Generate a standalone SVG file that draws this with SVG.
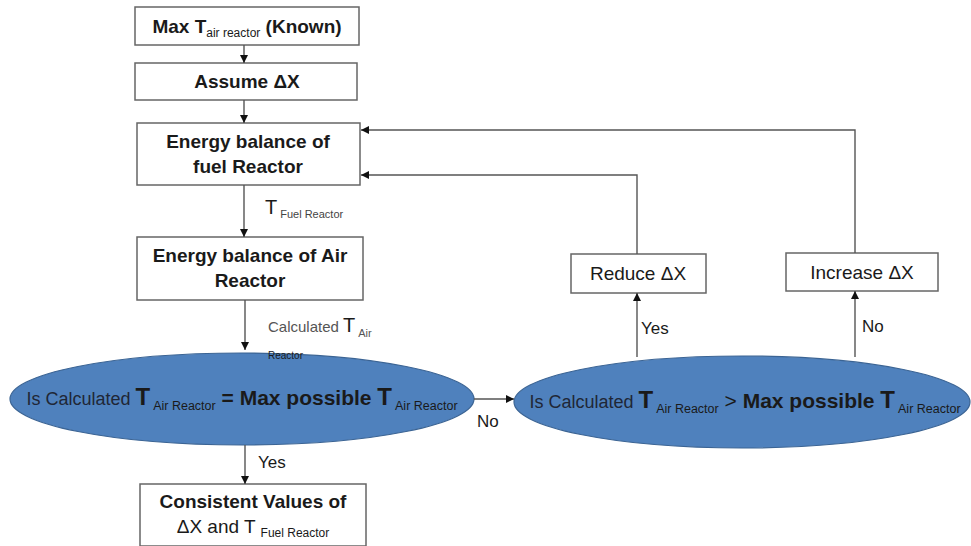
<svg xmlns="http://www.w3.org/2000/svg" width="971" height="546" viewBox="0 0 971 546">
<defs>
<marker id="ah" viewBox="0 0 10 10" refX="10" refY="5" markerWidth="8" markerHeight="8" markerUnits="userSpaceOnUse" orient="auto">
<path d="M0,0 L10,5 L0,10 z" fill="#111"/>
</marker>
<style>
.box{fill:#fff;stroke:#666;stroke-width:1.5}
.ell{fill:#4F81BD;stroke:#3b6494;stroke-width:1.2}
.t{font-family:"Liberation Sans",Arial,sans-serif;fill:#1a1a1a}
.b{font-weight:bold}
.c{stroke:#555;stroke-width:1.4;fill:none}
.ca{stroke:#555;stroke-width:1.4;fill:none;marker-end:url(#ah)}
</style>
</defs>
<rect width="971" height="546" fill="#fff"/>

<g id="n1">
<rect class="box" x="135" y="7" width="224" height="38"/>
<text class="t b" x="247" y="33" font-size="19" text-anchor="middle">Max T<tspan font-size="12" font-weight="normal" dy="4">air reactor</tspan><tspan dy="-4"> (Known)</tspan></text>
</g>
<g id="n2">
<rect class="box" x="135" y="63" width="222" height="37"/>
<text class="t b" x="247" y="88" font-size="19" text-anchor="middle">Assume ΔX</text>
</g>
<g id="n3">
<rect class="box" x="137" y="123" width="223" height="62"/>
<text class="t b" x="248" y="148" font-size="19" text-anchor="middle">Energy balance of</text>
<text class="t b" x="248" y="173" font-size="19" text-anchor="middle">fuel Reactor</text>
</g>
<g id="n4">
<rect class="box" x="137" y="237" width="226" height="63"/>
<text class="t b" x="250" y="262" font-size="19" text-anchor="middle">Energy balance of Air</text>
<text class="t b" x="250" y="287" font-size="19" text-anchor="middle">Reactor</text>
</g>
<g id="n5">
<ellipse class="ell" cx="242" cy="399" rx="232" ry="46"/>
<text class="t" x="242" y="405" text-anchor="middle"><tspan font-size="18" fill="#1f2736">Is Calculated </tspan><tspan font-size="24" font-weight="bold">T</tspan><tspan font-size="12.5" dy="5" dx="3">Air Reactor</tspan><tspan font-size="21" font-weight="bold" dy="-5"> = Max possible </tspan><tspan font-size="24" font-weight="bold">T</tspan><tspan font-size="12.5" dy="5" dx="3">Air Reactor</tspan></text>
</g>
<g id="n6">
<ellipse class="ell" cx="742" cy="402" rx="228" ry="46"/>
<text class="t" x="745" y="408" text-anchor="middle"><tspan font-size="18" fill="#1f2736">Is Calculated </tspan><tspan font-size="24" font-weight="bold">T</tspan><tspan font-size="12.5" dy="5" dx="3">Air Reactor</tspan><tspan font-size="21" dy="-5"> &gt; </tspan><tspan font-size="21" font-weight="bold">Max possible </tspan><tspan font-size="24" font-weight="bold">T</tspan><tspan font-size="12.5" dy="5" dx="3">Air Reactor</tspan></text>
</g>
<g id="n7">
<rect class="box" x="571" y="254" width="135" height="39"/>
<text class="t" x="638" y="280" font-size="19" text-anchor="middle">Reduce ΔX</text>
</g>
<g id="n8">
<rect class="box" x="786" y="253" width="152" height="38"/>
<text class="t" x="862" y="279" font-size="19" text-anchor="middle">Increase ΔX</text>
</g>
<g id="n9">
<rect class="box" x="140" y="484" width="226" height="62"/>
<text class="t b" x="253" y="508" font-size="19" text-anchor="middle">Consistent Values of</text>
<text class="t" x="253" y="533" text-anchor="middle"><tspan font-size="19">ΔX and T</tspan><tspan font-size="12" dy="4" dx="5">Fuel Reactor</tspan></text>
</g>

<g id="connectors">
<path class="ca" d="M244,45 V63"/>
<path class="ca" d="M244,100 V123"/>
<path class="ca" d="M244,185 V237"/>
<path class="ca" d="M245,300 V350"/>
<path class="ca" d="M245,445 V484"/>
<path class="ca" d="M474,399 H514"/>
<path class="ca" d="M637,357 V293"/>
<path class="ca" d="M855,357 V291"/>
<path class="ca" d="M637,254 V175 H361"/>
<path class="ca" d="M855,253 V130 H361"/>
<text class="t" x="265" y="214" font-size="20">T<tspan font-size="11" fill="#444" dy="4" dx="3">Fuel Reactor</tspan></text>
<text class="t" x="268" y="332" font-size="15" fill="#555"><tspan fill="#555">Calculated </tspan><tspan font-size="20" fill="#1a1a1a">T</tspan><tspan font-size="11" fill="#555" dy="5" dx="3">Air</tspan></text>
<text class="t" x="268" y="359" font-size="10" fill="#333">Reactor</text>
<text class="t" x="477" y="427" font-size="17">No</text>
<text class="t" x="258" y="468" font-size="17">Yes</text>
<text class="t" x="641" y="334" font-size="17">Yes</text>
<text class="t" x="862" y="332" font-size="17">No</text>
</g>
</svg>
